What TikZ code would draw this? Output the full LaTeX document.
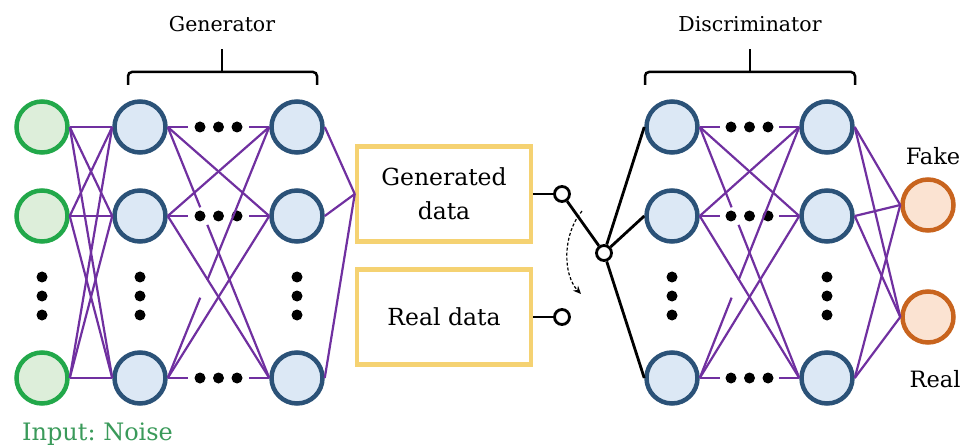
\documentclass[tikz,border=0pt]{standalone}
\usepackage{fontspec}
\setmainfont{DejaVu Serif}
\usetikzlibrary{calc,arrows.meta}
\definecolor{ngreen}{HTML}{22A84A}
\definecolor{ngreenf}{HTML}{DDEEDA}
\definecolor{nblue}{HTML}{2B5278}
\definecolor{nbluef}{HTML}{DCE8F5}
\definecolor{norange}{HTML}{C8641E}
\definecolor{norangef}{HTML}{FBE3D2}
\definecolor{npurple}{HTML}{7030A0}
\definecolor{nyellow}{HTML}{F5D272}
\definecolor{ntext}{HTML}{3A9A5A}
\tikzset{
  neuron/.style={circle, line width=4.5pt, minimum size=51pt, inner sep=0pt},
  inp/.style={neuron, draw=ngreen, fill=ngreenf},
  hid/.style={neuron, draw=nblue, fill=nbluef},
  outn/.style={neuron, draw=norange, fill=norangef},
  conn/.style={draw=npurple, line width=2.2pt},
  blk/.style={draw=black, line width=2.8pt},
  dotn/.style={circle, fill=black, minimum size=11pt, inner sep=0pt},
  databox/.style={draw=nyellow, line width=4.5pt, minimum width=174pt, minimum height=95pt, align=center, font=\fontsize{23.5}{34}\selectfont},
  sw/.style={circle, draw=black, fill=white, line width=2.8pt, minimum size=15pt, inner sep=0pt},
  lbl/.style={anchor=base, font=\fontsize{20.5}{24}\selectfont},
  olbl/.style={anchor=base, font=\fontsize{22.5}{26}\selectfont},
  brace/.style={draw=black, line width=2.5pt, rounded corners=4pt}
}
\begin{document}
\frenchspacing
\begin{tikzpicture}[x=1pt,y=-1pt]
\useasboundingbox (0,0) rectangle (966,446);
% ---------- nodes ----------
\foreach \n/\y in {1/127,2/216,3/378}{
  \node[inp] (i\n) at (42,\y) {};
  \node[hid] (ga\n) at (140,\y) {};
  \node[hid] (gb\n) at (297,\y) {};
  \node[hid] (da\n) at (672,\y) {};
  \node[hid] (db\n) at (827,\y) {};
}
\node[outn] (fake) at (928,205) {};
\node[outn] (real) at (928,317) {};
% vertical dots
\foreach \c/\x in {i/42,ga/140,gb/297,da/672,db/827}{
  \foreach \k/\y in {1/277,2/296,3/315}{
    \node[dotn] (\c v\k) at (\x,\y) {};
  }
}
% horizontal dots
\foreach \r/\y in {1/127,2/216,3/378}{
  \foreach \k/\dx in {1/-18.5,2/0,3/18.5}{
    \node[dotn] (gh\r\k) at (218.5+\dx,\y) {};
    \node[dotn] (dh\r\k) at (749.5+\dx,\y) {};
  }
}
% boxes
\node[databox] (gen) at (444,194) {Generated\\data};
\node[databox] (rdat) at (444,317) {Real data};
% switch
\node[sw] (c1) at (562,194) {};
\node[sw] (c2) at (562,317) {};
\node[sw] (piv) at (604,253) {};
% labels
\node[lbl] (glab) at (222,32) {Generator};
\node[lbl] (dlab) at (750,32) {Discriminator};
\node[olbl] (flab) at (933,165) {Fake};
\node[olbl] (rlab) at (935,387) {Real};
\node[anchor=base west, text=ntext, font=\fontsize{24}{28}\selectfont, inner sep=0pt] (nlab) at (22,440) {Input: Noise};
% ---------- connectors ----------
% input -> generator layer 1
\foreach \a in {1,2,3}{
  \foreach \b in {1,2,3}{
    \draw[conn] (i\a.east) -- (ga\b.west);
  }
}
% layer 1 -> layer 2 (generator and discriminator)
\foreach \a/\b in {1/2,2/1,2/3,3/2}{
  \draw[conn] (ga\a.east) -- (gb\b.west);
  \draw[conn] (da\a.east) -- (db\b.west);
}
\draw[conn] (ga1.east) -- ($(ga1.east)!0.32!(gb3.west)$)
            ($(ga1.east)!0.39!(gb3.west)$) -- (gb3.west);
\draw[conn] (ga3.east) -- ($(ga3.east)!0.32!(gb1.west)$)
            ($(ga3.east)!0.39!(gb1.west)$) -- (gb1.west);
\draw[conn] (da1.east) -- ($(da1.east)!0.32!(db3.west)$)
            ($(da1.east)!0.39!(db3.west)$) -- (db3.west);
\draw[conn] (da3.east) -- ($(da3.east)!0.32!(db1.west)$)
            ($(da3.east)!0.39!(db1.west)$) -- (db1.west);
\foreach \r in {1,2,3}{
  \draw[conn] (ga\r.east) -- ++(20,0);
  \draw[conn] (gb\r.west) -- ++(-20,0);
  \draw[conn] (da\r.east) -- ++(20,0);
  \draw[conn] (db\r.west) -- ++(-20,0);
}
% generator -> generated data
\foreach \r in {1,2,3}{
  \draw[conn] (gb\r.east) -- (gen.west);
}
% discriminator layer 2 -> outputs
\foreach \r in {1,2,3}{
  \draw[conn] (db\r.east) -- (fake.west);
  \draw[conn] (db\r.east) -- (real.west);
}
% switch
\draw[blk] (gen.east) -- (c1);
\draw[blk] (rdat.east) -- (c2);
\draw[blk] (c1) -- (piv);
\foreach \r in {1,2,3}{
  \draw[blk] (piv) -- (da\r.west);
}
\coordinate (as) at (582,211);
\coordinate (ae) at (581,294);
\draw[black, line width=1.2pt, dash pattern=on 3pt off 2pt, -{Stealth[length=8pt,width=7pt]}] (as) .. controls (562,235) and (563,275) .. (ae);
% braces
\coordinate (gbl) at (128,85);
\coordinate (gbr) at (317,85);
\coordinate (gbt) at (222,49);
\draw[brace] (gbl) -- (128,72) -- (317,72) -- (gbr);
\draw[brace] (222,72) -- (gbt);
\coordinate (dbl) at (645,85);
\coordinate (dbr) at (855,85);
\coordinate (dbt) at (750,49);
\draw[brace] (dbl) -- (645,72) -- (855,72) -- (dbr);
\draw[brace] (750,72) -- (dbt);
\end{tikzpicture}
\end{document}
